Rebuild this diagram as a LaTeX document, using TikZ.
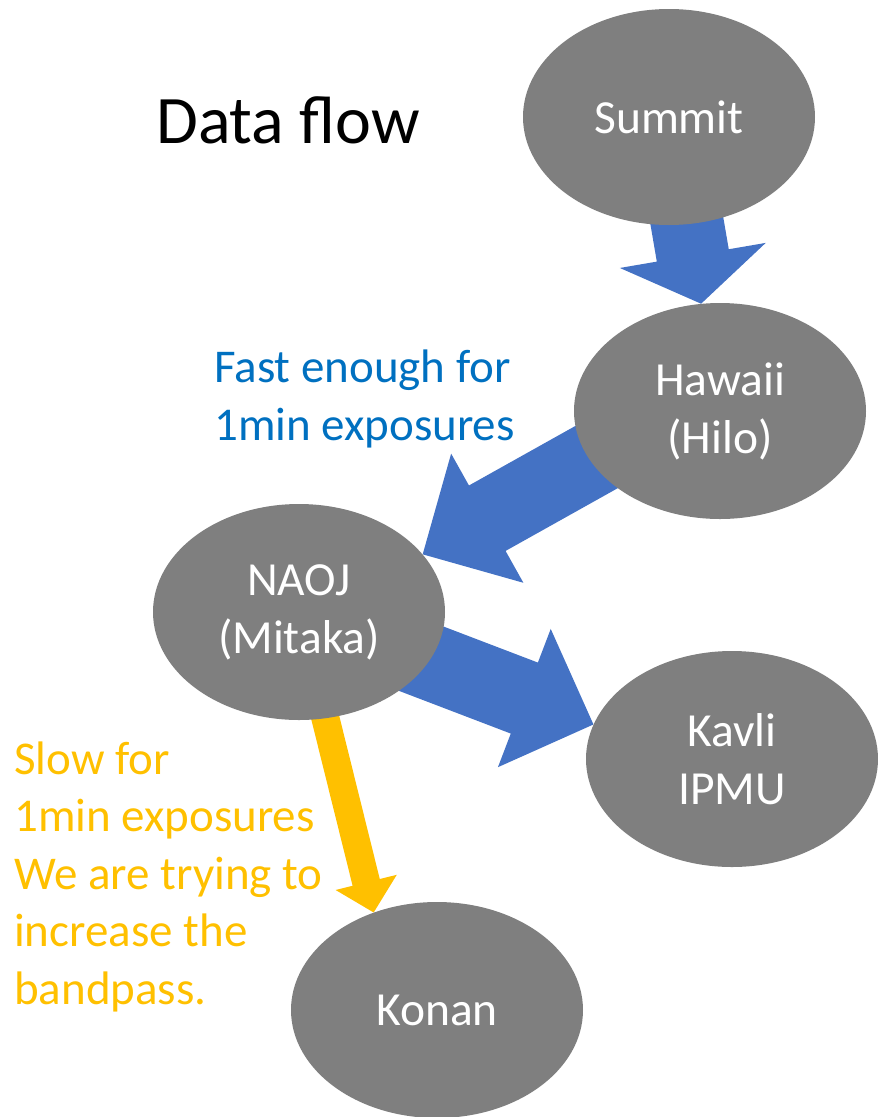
\documentclass[tikz,border=0pt]{standalone}
\usepackage{fontspec}
\setmainfont{Carlito}
\usetikzlibrary{shapes.geometric,calc}
\definecolor{nodegray}{HTML}{7F7F7F}
\definecolor{arrowblue}{HTML}{4472C4}
\definecolor{textblue}{HTML}{0070C0}
\definecolor{goldarrow}{HTML}{FFC000}
\pgfdeclarelayer{bg}
\pgfsetlayers{bg,main}
% #1 colour, #2 tail, #3 tip, #4 shaft half width, #5 head half width, #6 head length
\newcommand\blockarrow[6]{%
  \coordinate (ba) at ($(#3)!#6!(#2)$);
  \fill[#1] ($(#2)!#4!90:(#3)$) -- ($(ba)!#4!90:(#3)$) -- ($(ba)!#5!90:(#3)$)
    -- (#3) -- ($(ba)!#5!-90:(#3)$) -- ($(ba)!#4!-90:(#3)$) -- ($(#2)!#4!-90:(#3)$) -- cycle;
}
\tikzset{
  site/.style={ellipse, fill=nodegray, minimum width=292pt, minimum height=216pt,
    inner sep=0pt, text=white, align=center, font=\fontsize{47.5}{58}\selectfont},
  note/.style={anchor=base west, align=left, inner sep=0pt, font=\fontsize{47}{57.5}\selectfont},
}
\begin{document}
\begin{tikzpicture}[x=1pt,y=-1pt]
\useasboundingbox (0,0) rectangle (878,1117);
\node[site] (Summit) at (669,117) {Summit};
\node[site] (Hawaii) at (720,411) {Hawaii\\(Hilo)};
\node[site] (NAOJ) at (299,612) {NAOJ\\(Mitaka)};
\node[site] (Kavli) at (732,759) {Kavli\\IPMU};
\node[site] (Konan) at (437,1010) {Konan};
\node[anchor=base west, inner sep=0pt, font=\fontsize{68}{80}\selectfont] (title) at (156,143) {Data flow};
\node[note, text=textblue] (fastlabel) at (214,440) {Fast enough for\\1min exposures};
\node[note, text=goldarrow] (slowlabel) at (14,1004) {Slow for\\1min exposures\\We are trying to\\increase the\\bandpass.};
\coordinate (hawaiiTail) at ($(Hawaii)+(0,-23)$);
\begin{pgfonlayer}{bg}
\blockarrow{arrowblue}{Summit}{Hawaii.100}{36.5pt}{74pt}{49pt}
\blockarrow{arrowblue}{hawaiiTail}{NAOJ.25}{37.5pt}{74pt}{74pt}
\blockarrow{arrowblue}{NAOJ}{Kavli.166}{38pt}{74pt}{74pt}
\blockarrow{goldarrow}{NAOJ}{Konan.123}{14pt}{31.5pt}{31pt}
\end{pgfonlayer}
\end{tikzpicture}
\end{document}
